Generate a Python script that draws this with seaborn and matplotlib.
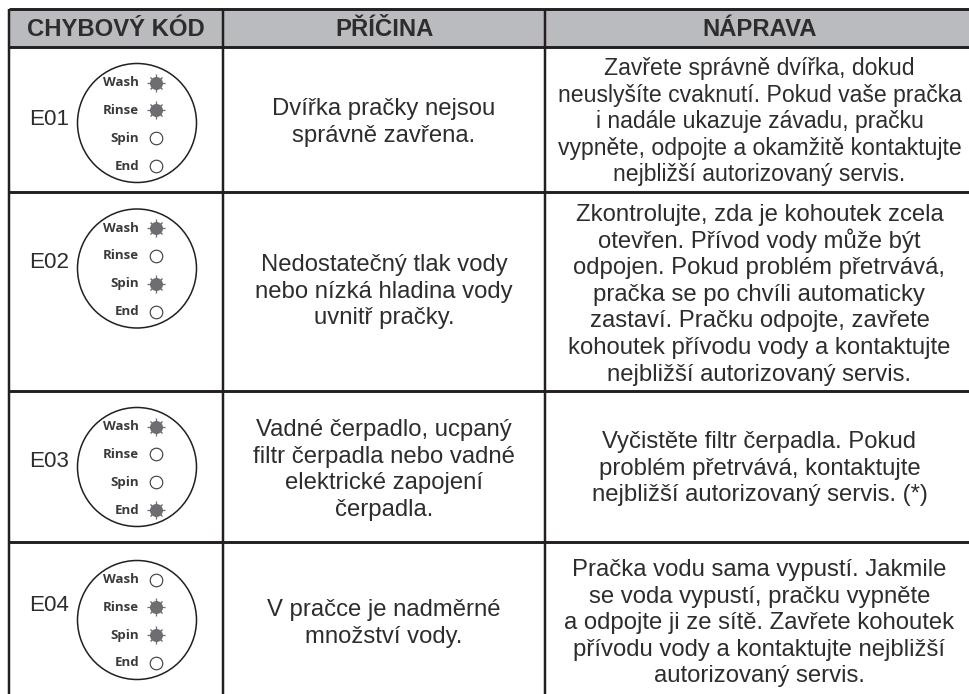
import matplotlib
matplotlib.use("Agg")
import matplotlib.pyplot as plt
import pandas as pd
import seaborn as sns
from matplotlib.patches import Circle, Rectangle

# --- content ---
headers = ["CHYBOVÝ KÓD", "PŘÍČINA", "NÁPRAVA"]
codes = ["E01", "E02", "E03", "E04"]
lamps = ["Wash", "Rinse", "Spin", "End"]
lamp_states = {
    "E01": [1, 1, 0, 0],
    "E02": [1, 0, 1, 0],
    "E03": [1, 0, 0, 1],
    "E04": [0, 1, 1, 0],
}
causes = [
    ["Dvířka pračky nejsou", "správně zavřena."],
    ["Nedostatečný tlak vody", "nebo nízká hladina vody", "uvnitř pračky."],
    ["Vadné čerpadlo, ucpaný", "filtr čerpadla nebo vadné", "elektrické zapojení", "čerpadla."],
    ["V pračce je nadměrné", "množství vody."],
]
remedies = [
    ["Zavřete správně dvířka, dokud", "neuslyšíte cvaknutí. Pokud vaše pračka",
     "i nadále ukazuje závadu, pračku", "vypněte, odpojte a okamžitě kontaktujte",
     "nejbližší autorizovaný servis."],
    ["Zkontrolujte, zda je kohoutek zcela", "otevřen. Přívod vody může být",
     "odpojen. Pokud problém přetrvává,", "pračka se po chvíli automaticky",
     "zastaví. Pračku odpojte, zavřete", "kohoutek přívodu vody a kontaktujte",
     "nejbližší autorizovaný servis."],
    ["Vyčistěte filtr čerpadla. Pokud", "problém přetrvává, kontaktujte",
     "nejbližší autorizovaný servis. (*)"],
    ["Pračka vodu sama vypustí. Jakmile", "se voda vypustí, pračku vypněte",
     "a odpojte ji ze sítě. Zavřete kohoutek", "přívodu vody a kontaktujte nejbližší",
     "autorizovaný servis."],
]

# --- layout in pixels of the page ---
W, H = 969, 694
LEFT, COL1, COL2 = 9.5, 223, 545.5
TOP, HEAD = 8.5, 47
ROW_LINES = [192, 391, 542]
DIAL_Y = [123, 268.5, 467, 620]
DIAL_X, DIAL_R = 137, 59.5
LAMP_X, LABEL_X = 156, 139
LAMP_DY = [-40.3, -12.6, 15.2, 43]
CODE_BASE = [125, 268, 467, 611]
CAUSE_BASE = [115, 271, 436, 616]
REMEDY_BASE = [75, 221, 448, 576]
REMEDY_SIZE = [16.55, 17.2, 17.2, 17.2]
CAUSE_X, REMEDY_X = 384, 759.5
STEP = 26.6
LINE = "#231f20"
TEXT = "#2e2c2d"
GRAY = "#6d6e71"

sns.set_theme(style="white")
plt.rcParams["font.family"] = ["Liberation Sans", "DejaVu Sans"]
fig = plt.figure(figsize=(W / 100, H / 100), dpi=100)
ax = fig.add_axes([0, 0, 1, 1])
ax.set_xlim(0, W)
ax.set_ylim(H, 0)
ax.axis("off")

ax.add_patch(Rectangle((LEFT, TOP), W - LEFT, HEAD - TOP, fc="#b9bbbe", ec="none", zorder=0))
lw = 2.1
ax.plot([LEFT, W], [TOP, TOP], color=LINE, lw=lw, solid_capstyle="butt")
for y in [HEAD] + ROW_LINES:
    ax.plot([LEFT, W], [y, y], color=LINE, lw=lw, solid_capstyle="butt")
for x in [LEFT, COL1, COL2]:
    ax.plot([x, x], [TOP, H], color=LINE, lw=lw * 0.85, solid_capstyle="butt")

for h, cx in zip(headers, [116, 385, 760]):
    ax.text(cx, 35.5, h, ha="center", va="baseline", fontsize=17.2, fontweight="bold", color=TEXT)

rows = []
for i, code in enumerate(codes):
    ax.add_patch(Circle((DIAL_X, DIAL_Y[i]), DIAL_R, fc="white", ec=LINE, lw=1.1, zorder=1))
    ax.text(29, CODE_BASE[i], code, ha="left", va="baseline", fontsize=16.1, color=TEXT)
    for j, lamp in enumerate(lamps):
        y = DIAL_Y[i] + LAMP_DY[j]
        rows.append({"x": LAMP_X, "y": y, "state": lamp_states[code][j]})
        ax.text(LABEL_X, y, lamp, ha="right", va="center", fontsize=9.5, fontweight="bold",
                family="Open Sans", color="#3a3a3c", zorder=3)
    for k, t in enumerate(causes[i]):
        ax.text(CAUSE_X, CAUSE_BASE[i] + k * STEP, t, ha="center",
                va="baseline", fontsize=17.2, color=TEXT)
    for k, t in enumerate(remedies[i]):
        ax.text(REMEDY_X, REMEDY_BASE[i] + k * STEP, t, ha="center",
                va="baseline", fontsize=REMEDY_SIZE[i], color=TEXT)

df = pd.DataFrame(rows)
on = df[df.state == 1]
off = df[df.state == 0]
sns.scatterplot(data=on, x="x", y="y", marker="+", s=185, color=GRAY, linewidth=0.9,
                ax=ax, zorder=3, legend=False)
sns.scatterplot(data=on, x="x", y="y", marker="x", s=75, color=GRAY, linewidth=1.0,
                ax=ax, zorder=3, legend=False)
sns.scatterplot(data=on, x="x", y="y", marker="o", s=88, color=GRAY, edgecolor=GRAY, linewidth=0,
                ax=ax, zorder=4, legend=False)
sns.scatterplot(data=off, x="x", y="y", marker="o", s=82, facecolor="white", edgecolor="#3a3a3c",
                linewidth=0.8, ax=ax, zorder=4, legend=False)
ax.set_xlim(0, W)
ax.set_ylim(H, 0)
ax.axis("off")
fig.savefig("out.png", dpi=100)
